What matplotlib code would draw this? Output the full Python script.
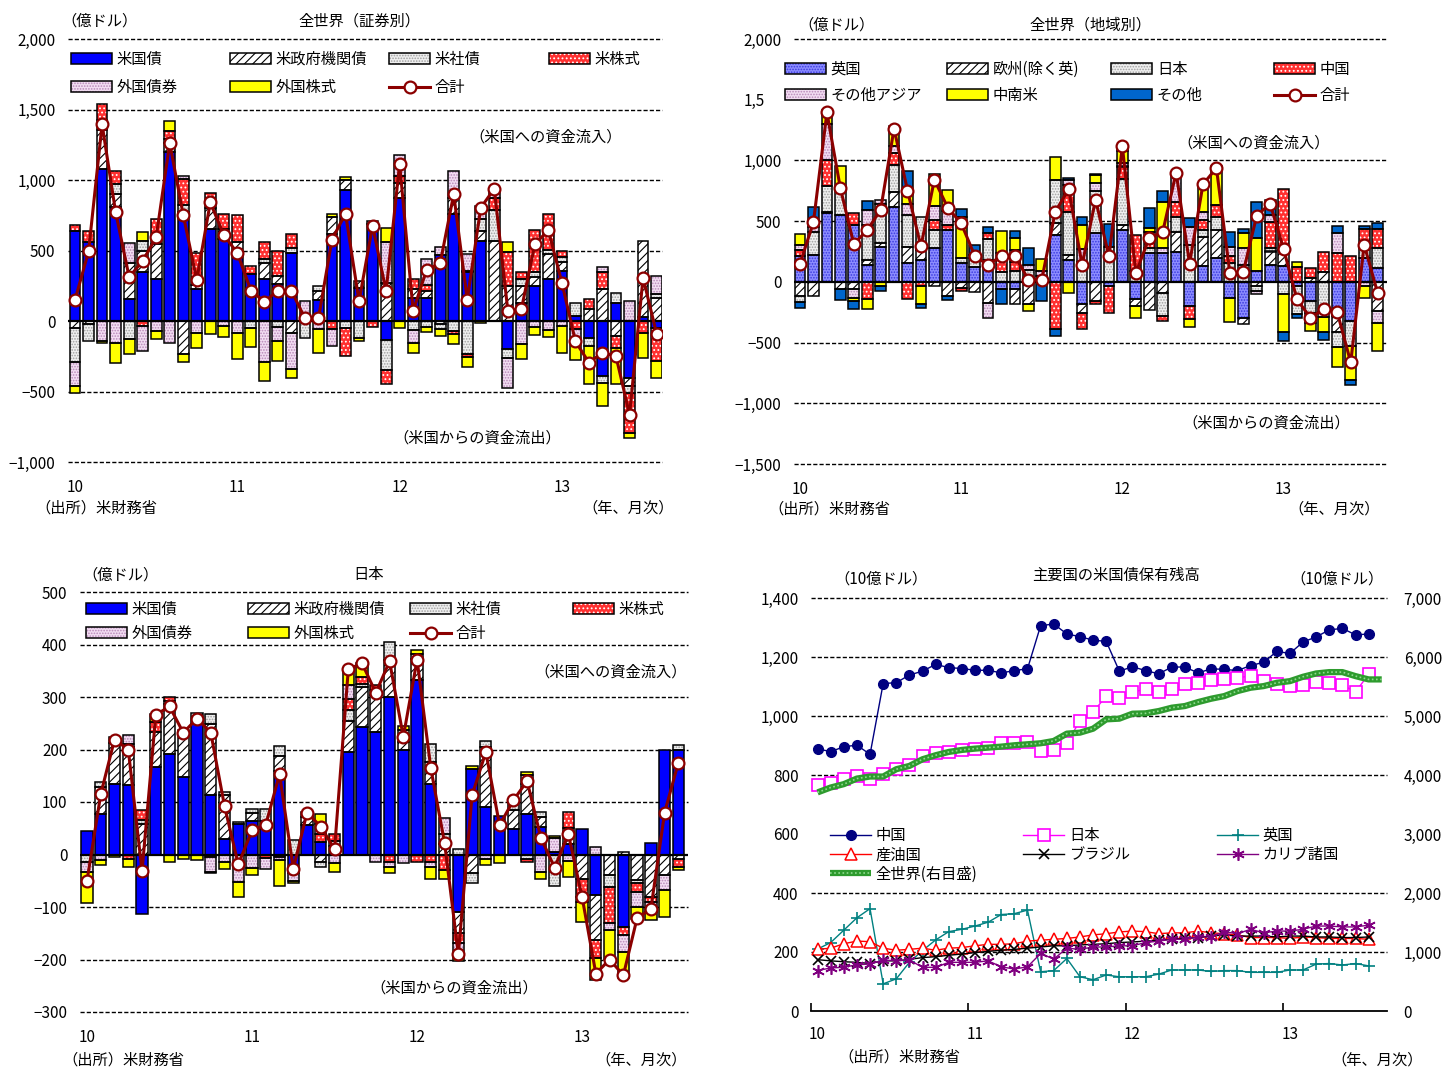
import numpy as np
import matplotlib
matplotlib.use("Agg")
import matplotlib.pyplot as plt
from matplotlib.patches import Patch, Rectangle
from matplotlib.lines import Line2D
from matplotlib.legend import Legend
from matplotlib.legend_handler import HandlerTuple
from matplotlib.ticker import FuncFormatter

plt.rcParams["font.family"] = ["Noto Sans CJK JP", "DejaVu Sans"]
plt.rcParams["font.size"] = 11
plt.rcParams["hatch.linewidth"] = 0.8

# ---- 全世界 合計 (億ドル), 2010/1 - 2013/8 ----
world_total = [150, 493, 1395, 773, 312, 425, 594, 1262, 752, 292, 841, 610,
               482, 216, 137, 216, 215, 18, 19, 578, 762, 140, 676, 211,
               1115, 72, 364, 410, 900, 151, 803, 938, 73, 82, 545, 644,
               271, -145, -295, -224, -251, -664, 306, -90]

# ---- 全世界（証券別） ----
w_ust = [640, 560, 1075, 805, 154, 350, 300, 1200, 770, 225, 650, 580,
         480, 330, 296, 260, 480, 20, 150, 620, 930, 237, 690, -137,
         875, 166, 166, 470, 758, 344, 570, 0, -200, 130, 249, 296,
         355, 35, -118, -391, 130, -403, 30, -52]
w_agy = [-50, -20, 280, 95, 260, 150, 245, 60, -237, 30, 150, 70,
         80, 0, 116, 60, -83, 0, 60, 120, 70, 47, 0, 270,
         105, 60, 50, -20, 117, 10, 71, 570, 250, 120, 60, 178,
         60, 0, 83, 225, -107, -60, 540, 166]
w_corp = [-240, -120, 70, 70, -130, 70, 0, 30, 50, 0, 40, 0,
          0, -52, 26, -45, 40, -123, 40, 0, -50, -118, 0, -207,
          0, -66, -43, -40, -70, -237, 82, 220, -60, 45, 40, 30,
          40, 95, -60, -47, 71, -50, 0, 24]
w_eq = [40, 80, 115, 93, 0, -35, 178, 60, 190, 225, 70, 110,
        190, 60, 119, 178, 100, 0, 0, -60, -200, 0, -40, -106,
        50, 70, 40, 0, -20, -20, 0, 80, 240, 49, 296, 254,
        45, -60, 71, 119, -83, -280, -83, -232]
w_fb = [-170, 0, -140, -154, 140, -178, -70, -154, 20, -83, 0, -35,
        -83, 0, -289, -100, -260, 120, -60, -120, 0, 0, 20, 290,
        146, -88, 182, 53, 188, 120, 94, 60, -214, -160, -40, -66,
        -35, -80, 0, 40, 0, 142, 0, 130]
w_fe = [-50, 0, -15, -142, -107, 60, -60, 65, -52, -107, -90, -80,
        -190, -130, -138, -140, -60, 0, -170, 20, 20, -25, 0, 100,
        -52, -71, -33, -45, -75, -70, -17, 0, 70, -110, -60, -48,
        -190, -140, -272, -166, -260, -37, -178, -119]

# ---- 全世界（地域別） ----
r_uk = [209, 223, 565, 551, 468, 141, 291, 620, 155, 182, 275, 427,
        155, 125, 182, -62, -62, 30, 50, 386, 182, -185, 400, -35,
        430, -144, 237, 240, 250, -198, 128, 196, -131, -294, 87, 141,
        128, -35, -158, 0, -280, -321, 196, 114]
r_eu = [-117, -117, 13, -62, -57, 41, 27, 124, 136, 82, -35, -117,
        -49, -80, -171, 0, -123, -185, 0, 96, 41, -68, -158, 0,
        40, -54, -235, -90, 163, 0, 245, 231, 0, -50, -35, 109,
        136, 0, 33, 82, -136, 0, 0, -239]
r_jp = [-49, 190, 212, 207, 0, 286, 327, 220, 258, 272, 150, 0,
        41, 70, 169, 80, 90, 70, 0, 358, 354, 160, 352, 290,
        380, 86, 40, -190, 122, 305, 54, 109, 154, 141, -41, 27,
        -100, -231, -95, -250, -123, -204, 82, 163]
r_cn = [55, 0, 210, 0, 100, -144, 0, 97, -144, -35, 83, 40,
        -27, 30, 49, 110, 70, 0, 0, -389, 220, -136, -27, -218,
        100, 300, 130, -41, 122, -110, 82, 95, 55, 0, 0, 218,
        503, 125, 81, 163, 237, 209, 155, 155]
r_oa = [41, 40, 303, 0, -73, 122, 30, 55, 95, 0, 120, 120,
        0, 0, -130, 50, 100, 40, 40, 0, 40, 110, 66, 0,
        30, 0, 0, 35, 240, 150, 68, 0, 82, 136, -27, 54,
        0, 0, -82, -40, 168, 0, -35, -96]
r_la = [90, 0, 70, 192, -28, -82, -30, 165, 80, -150, 262, 170,
        340, 0, 0, 180, 103, -55, 98, 188, -90, 200, 64, 0,
        100, -96, 35, 385, 0, -60, 226, 326, -200, 128, 272, 0,
        -313, 41, -68, -120, -166, -286, -96, -236]
r_ot = [-46, 163, 46, -88, -68, 76, -46, 0, 190, -27, 0, -30,
        60, 80, 49, -123, 54, 137, -155, -60, 20, 67, 10, 186,
        40, 0, 163, 85, 10, 68, 0, 0, 122, 27, 299, 123,
        -73, -28, 0, -70, 55, -41, 27, 55]

# ---- 日本 ----
j_ust = [45, 78, 135, 132, -114, 167, 192, 148, 249, 113, 30, 58,
         64, 49, 160, -35, 56, 24, 0, 195, 243, 234, 300, 199,
         332, 135, 0, -109, 163, 91, 73, 49, 78, 53, 5, 20,
         48, -77, 0, -138, 0, 21, 199, 199]
j_agy = [0, 50, 78, 73, 59, 66, 95, 79, 20, 136, 83, 0,
         16, 15, 28, 0, 16, -14, 16, 60, 76, 70, 70, 16,
         40, 41, 20, -41, -36, 114, 0, 35, 57, 19, 0, 22,
         -46, -86, -39, 5, -49, -80, -39, -8]
j_corp = [-14, 10, 0, 6, 6, 0, 6, 10, 0, 19, 6, 4,
          6, 22, 19, 27, 9, -9, 10, 20, 6, 10, 35, 23,
          10, 35, 19, 10, -18, 11, 0, 19, -8, 9, -60, 9,
          0, 0, -23, 0, -6, 0, 0, 9]
j_eq = [0, 0, 10, -8, 19, 20, 7, 0, 0, -4, 0, 0,
        0, -6, -5, 0, 0, 16, 14, 22, 13, 8, -14, 0,
        -14, -14, -30, -19, 0, 0, 0, 0, -6, 0, 0, 30,
        -35, -35, -69, -16, -16, -10, 0, -16]
j_fb = [-19, -10, 0, 16, 0, 0, 0, 0, 0, -29, -14, -52,
        -25, -22, -5, -15, 0, 19, -17, 25, 0, -14, -9, -17,
        0, -9, 30, -25, 0, -8, 0, 0, 16, -33, 26, -12,
        -10, 15, -13, -31, -29, -19, -29, 0]
j_fe = [-59, -10, -4, -15, 0, 15, -14, -8, -10, -3, -13, -28,
        -14, 0, -50, -5, 0, 19, -16, 32, 26, 0, -13, 7,
        7, -23, -16, -8, 5, -12, -17, 0, 6, -13, 5, -30,
        -37, -41, -57, -50, -22, -16, -51, -6]
j_total = [-50, 115, 219, 200, -32, 266, 282, 232, 259, 232, 92, -19,
           46, 57, 153, -27, 80, 53, 10, 353, 364, 308, 368, 224,
           371, 164, 22, -190, 113, 195, 56, 103, 140, 32, -25, 39,
           -81, -227, -200, -230, -121, -104, 80, 175]

# ---- 主要国の米国債保有残高 (10億ドル), 2010/1 - 2013/7 ----
h_china = [889, 879, 896, 901, 870, 1110, 1113, 1139, 1152, 1175, 1164, 1161,
           1155, 1155, 1146, 1154, 1160, 1306, 1312, 1278, 1269, 1257, 1253, 1152,
           1167, 1154, 1143, 1166, 1166, 1146, 1160, 1158, 1154, 1171, 1182, 1219,
           1212, 1251, 1268, 1292, 1297, 1275, 1278]
h_japan = [767, 772, 786, 797, 788, 803, 820, 833, 865, 876, 878, 885,
           887, 891, 910, 908, 913, 882, 885, 910, 983, 1013, 1068, 1060,
           1082, 1090, 1081, 1090, 1109, 1113, 1122, 1124, 1130, 1135, 1118, 1107,
           1101, 1105, 1116, 1113, 1105, 1082, 1141]
h_uk = [210, 232, 274, 316, 347, 92, 109, 165, 205, 241, 269, 277,
        288, 301, 327, 330, 342, 133, 137, 178, 116, 106, 122, 116,
        116, 116, 125, 139, 139, 139, 134, 137, 137, 131, 131, 131,
        139, 139, 159, 161, 156, 161, 153]
h_oil = [209, 213, 228, 237, 235, 213, 206, 209, 213, 206, 213, 215,
         221, 226, 226, 228, 237, 240, 243, 246, 251, 258, 262, 268,
         271, 269, 262, 265, 265, 271, 265, 262, 258, 249, 249, 249,
         246, 251, 249, 246, 246, 246, 243]
h_brazil = [174, 170, 167, 165, 161, 170, 170, 175, 181, 184, 189, 193,
            198, 202, 206, 209, 213, 217, 221, 221, 224, 226, 228, 232,
            234, 237, 240, 243, 246, 249, 254, 258, 254, 254, 254, 251,
            254, 254, 251, 251, 249, 249, 251]
h_carib = [137, 146, 148, 157, 159, 173, 170, 173, 148, 148, 165, 165,
           165, 170, 150, 142, 150, 195, 176, 213, 209, 217, 217, 221,
           221, 232, 237, 243, 243, 251, 251, 269, 262, 277, 265, 271,
           271, 277, 288, 288, 285, 285, 291]
h_world = [3705, 3788, 3845, 3940, 3974, 3974, 4098, 4154, 4267, 4335, 4391, 4425,
           4447, 4464, 4481, 4504, 4521, 4538, 4577, 4701, 4718, 4785, 4943, 4955,
           5039, 5045, 5084, 5141, 5169, 5236, 5293, 5338, 5422, 5479, 5507, 5563,
           5591, 5665, 5721, 5744, 5744, 5676, 5620, 5620]

sec_labels = ["米国債", "米政府機関債", "米社債", "米株式", "外国債券", "外国株式"]
reg_labels = ["英国", "欧州(除く英)", "日本", "中国", "その他アジア", "中南米", "その他"]
year_labels = ["10", "11", "12", "13"]

SEC_STYLES = [("#0000FF", None, "#0000FF"),
              ("white", "////", "black"),
              ("#EFEFEF", "......", "#A0A0A0"),
              ("#FF3030", "....", "white"),
              ("#F2DDF2", "......", "#B888B8"),
              ("#FFFF00", None, "#FFFF00")]
REG_STYLES = [("#8C8CFF", "......", "#3A3AE0"),
              ("white", "////", "black"),
              ("#EFEFEF", "......", "#A0A0A0"),
              ("#FF3030", "....", "white"),
              ("#F2DDF2", "......", "#B888B8"),
              ("#FFFF00", None, "#FFFF00"),
              ("#0066CC", None, "#0066CC")]
DARKRED = "#8B0000"

W, H = 1449, 1070
fig = plt.figure(figsize=(W / 100, H / 100), dpi=100)
fmt = FuncFormatter(lambda v, p: f"{int(round(v)):,}".replace("-", "\u2212"))


def box(l, t, r, b):
    return [l / W, 1 - b / H, (r - l) / W, (b - t) / H]


def ftext(px, py, s, ha="center"):
    fig.text(px / W, 1 - py / H, s, ha=ha, va="center", fontsize=11)


def dashed_grid(ax, ticks):
    for t in ticks:
        if t != 0:
            ax.axhline(t, color="black", lw=1.0, ls=(0, (3, 1.5)), zorder=1,
                       clip_on=False)


def bar_axes(rect, ylo, yhi, step, xlim):
    ax = fig.add_axes(rect)
    ax.set_xlim(*xlim)
    ax.set_ylim(ylo, yhi)
    for s in ax.spines.values():
        s.set_visible(False)
    ticks = np.arange(ylo, yhi + 1, step)
    ax.set_yticks(ticks)
    ax.yaxis.set_major_formatter(fmt)
    ax.tick_params(axis="y", length=0, pad=9)
    dashed_grid(ax, ticks)
    ax.axhline(0, color="black", lw=1.6, zorder=4)
    ax.set_xticks([0, 12, 24, 36], year_labels)
    ax.tick_params(axis="x", length=0, pad=12)
    return ax


def stack_bars(ax, series, styles, width):
    n = len(series[0])
    x = np.arange(n)
    up = np.zeros(n)
    down = np.zeros(n)
    for vals, (fc, hatch, hc) in zip(series, styles):
        v = np.asarray(vals, dtype=float)
        base = np.where(v >= 0, up, down)
        m = v != 0
        ax.bar(x[m], v[m], width, bottom=base[m], color=fc, hatch=hatch,
               edgecolor=hc, linewidth=0, zorder=3)
        ax.bar(x[m], v[m], width, bottom=base[m], fill=False,
               edgecolor="black", linewidth=1.1, zorder=3.5)
        up += np.clip(v, 0, None)
        down += np.clip(v, None, 0)


def total_line(ax, vals):
    ax.plot(np.arange(len(vals)), vals, color=DARKRED, lw=2.2, marker="o", ms=8.5,
            mfc="white", mec=DARKRED, mew=1.6, zorder=6)


def patch_handles(styles):
    return [(Patch(facecolor=fc, hatch=h, edgecolor=hc, linewidth=0),
             Patch(facecolor="none", edgecolor="black", linewidth=1.1))
            for fc, h, hc in styles]


total_handle = Line2D([], [], color=DARKRED, lw=2.2, marker="o", ms=8.5,
                      mfc="white", mec=DARKRED, mew=1.6)


def column_legends(ax, handles, labels, cols_x, top_y, spacing, hlen=2.7):
    ncol = len(cols_x)
    for c, px in enumerate(cols_x):
        idx = list(range(c, len(handles), ncol))
        leg = Legend(ax, [handles[i] for i in idx], [labels[i] for i in idx],
                     loc="upper left", bbox_to_anchor=(px / W, 1 - top_y / H),
                     bbox_transform=fig.transFigure, frameon=False, borderpad=0,
                     borderaxespad=0, handlelength=hlen, handleheight=0.7,
                     handletextpad=0.3, labelspacing=spacing, fontsize=11,
                     handler_map={tuple: HandlerTuple(ndivide=1, pad=0)})
        leg.set_zorder(7)
        ax.add_artist(leg)


def white_band(ax, l, t, r, b):
    ax.add_patch(Rectangle((l / W, 1 - b / H), (r - l) / W, (b - t) / H,
                           transform=fig.transFigure, facecolor="white",
                           edgecolor="none", zorder=5.5, clip_on=False))


# ---------------- 全世界（証券別） ----------------
ax1 = bar_axes(box(68, 39, 662, 462), -1000, 2000, 500, (-0.52, 43.4))
stack_bars(ax1, [w_ust, w_agy, w_corp, w_eq, w_fb, w_fe], SEC_STYLES, 0.8)
total_line(ax1, world_total)
column_legends(ax1, patch_handles(SEC_STYLES) + [total_handle],
               sec_labels + ["合計"], [71, 230, 389, 549], 51, 0.72)
ftext(99, 21, "（億ドル）")
ftext(359, 21, "全世界（証券別）")
ftext(546, 137, "（米国への資金流入）")
ftext(477, 438, "（米国からの資金流出）")
ftext(35, 508, "（出所）米財務省", ha="left")
ftext(674, 508, "（年、月次）", ha="right")

# ---------------- 全世界（地域別） ----------------
ax2 = bar_axes(box(794, 39, 1387, 464), -1500, 2000, 500, (-0.45, 43.7))
stack_bars(ax2, [r_uk, r_eu, r_jp, r_cn, r_oa, r_la, r_ot], REG_STYLES, 0.8)
total_line(ax2, world_total)
white_band(ax2, 765, 55, 1392, 108)
column_legends(ax2, patch_handles(REG_STYLES) + [total_handle],
               reg_labels + ["合計"], [785, 947, 1111, 1274], 61, 0.6)
ftext(836, 25, "（億ドル）")
ftext(1090, 25, "全世界（地域別）")
ftext(1254, 143, "（米国への資金流入）")
ftext(1266, 423, "（米国からの資金流出）")
ftext(768, 509, "（出所）米財務省", ha="left")
ftext(1380, 509, "（年、月次）", ha="right")

# ---------------- 日本 ----------------
ax3 = bar_axes(box(80, 592, 688, 1012), -300, 500, 100, (-0.51, 43.7))
stack_bars(ax3, [j_ust, j_agy, j_corp, j_eq, j_fb, j_fe], SEC_STYLES, 0.82)
total_line(ax3, j_total)
column_legends(ax3, patch_handles(SEC_STYLES) + [total_handle],
               sec_labels + ["合計"], [86, 248, 410, 573], 601, 0.47)
ftext(121, 575, "（億ドル）")
ftext(369, 575, "日本")
ftext(611, 672, "（米国への資金流入）")
ftext(454, 988, "（米国からの資金流出）")
ftext(62, 1060, "（出所）米財務省", ha="left")
ftext(687, 1060, "（年、月次）", ha="right")

# ---------------- 主要国の米国債保有残高 ----------------
ax4 = fig.add_axes(box(811, 598, 1387, 1011))
ax4.set_xlim(-0.5, 43.4)
ax4.set_ylim(0, 1400)
for k in ("left", "right", "top"):
    ax4.spines[k].set_visible(False)
ax4.spines["bottom"].set_linewidth(1.3)
ax4.set_yticks(np.arange(0, 1401, 200))
ax4.yaxis.set_major_formatter(fmt)
ax4.tick_params(axis="y", length=0, pad=9)
dashed_grid(ax4, range(200, 1401, 200))
ax4.set_xticks([-0.5, 11.5, 23.5, 35.5], ["", "", "", ""])
ax4.tick_params(axis="x", which="major", direction="in", length=6, width=1.2)
ax4.set_xticks([0, 12, 24, 36], year_labels, minor=True)
ax4.tick_params(axis="x", which="minor", length=0, pad=11)

x43 = np.arange(len(h_china))
l_cn, = ax4.plot(x43, h_china, color="#000080", lw=1, marker="o", ms=7,
                 mfc="#000080", mec="#000080", zorder=3)
l_jp, = ax4.plot(x43, h_japan, color="#FF00FF", lw=1, marker="s", ms=8,
                 mfc="white", mec="#FF00FF", mew=1.2, zorder=3)
l_uk, = ax4.plot(x43, h_uk, color="#008080", lw=1, marker="+", ms=8, mew=1.2, zorder=3)
l_oil, = ax4.plot(x43, h_oil, color="#FF0000", lw=1, marker="^", ms=8,
                  mfc="white", mec="#FF0000", mew=1.1, zorder=3)
l_br, = ax4.plot(x43, h_brazil, color="black", lw=1, marker="x", ms=7, mew=1.2, zorder=3)
l_cb, = ax4.plot(x43, h_carib, color="#800080", lw=1, marker=(6, 2, 0), ms=9,
                 mew=1.2, zorder=3)

ax5 = ax4.twinx()
ax5.set_ylim(0, 7000)
for s in ax5.spines.values():
    s.set_visible(False)
ax5.set_yticks(np.arange(0, 7001, 1000))
ax5.yaxis.set_major_formatter(fmt)
ax5.tick_params(axis="y", length=0, pad=12)
xw = np.arange(len(h_world))
g1, = ax5.plot(xw, h_world, color="#2E9B2E", lw=4.5, solid_capstyle="butt", zorder=3)
g2, = ax5.plot(xw, h_world, color="#8FDA8F", lw=1.2, ls=(0, (1, 1.5)), zorder=3.1)

white_band(ax5, 811, 825, 1393, 882)
hold_handles = [l_cn, l_oil, (g1, g2), l_jp, l_br, l_uk, l_cb]
hold_labels = ["中国", "産油国", "全世界(右目盛)", "日本", "ブラジル", "英国", "カリブ諸国"]
for px, idx in zip([830, 1023, 1217], [[0, 1, 2], [3, 4], [5, 6]]):
    leg = Legend(ax5, [hold_handles[i] for i in idx], [hold_labels[i] for i in idx],
                 loc="upper left", bbox_to_anchor=(px / W, 1 - 827 / H),
                 bbox_transform=fig.transFigure, frameon=False, borderpad=0,
                 borderaxespad=0, handlelength=2.7, handletextpad=0.3,
                 labelspacing=0.15, fontsize=11,
                 handler_map={tuple: HandlerTuple(ndivide=1, pad=0)})
    leg.set_zorder(7)
    ax5.add_artist(leg)

ftext(1116, 575, "主要国の米国債保有残高")
ftext(881, 579, "（10億ドル）")
ftext(1337, 579, "（10億ドル）")
ftext(838, 1057, "（出所）米財務省", ha="left")
ftext(1423, 1060, "（年、月次）", ha="right")

fig.savefig("out.png", dpi=100)
